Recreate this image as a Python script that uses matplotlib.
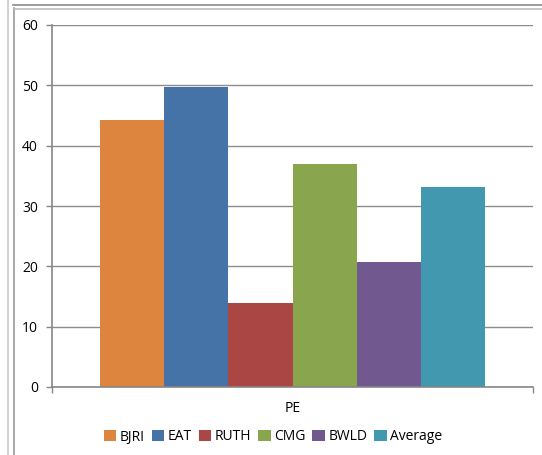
import matplotlib
matplotlib.use("Agg")
import matplotlib.pyplot as plt
from matplotlib.lines import Line2D
from matplotlib.patches import Patch
import numpy as np

plt.rcParams['font.family'] = ['Open Sans', 'DejaVu Sans']

category = "PE"
names = ["BJRI", "EAT", "RUTH", "CMG", "BWLD", "Average"]
values = [44.3, 49.8, 14.0, 37.0, 20.8, 33.2]
colors = ["#DD843F", "#4572A7", "#AA4643", "#89A54E", "#71588F", "#4198AF"]
yticks = [0, 10, 20, 30, 40, 50, 60]

W, H = 542, 455
fig = plt.figure(figsize=(W / 100, H / 100), dpi=100, facecolor='white')

# outer frame lines (screenshot border)
fig.add_artist(Line2D([8 / W, 8 / W], [0, 1], color='#c8c8c8', lw=1.2))
fig.add_artist(Line2D([14 / W, 14 / W], [0, 1 - 8 / H], color='#9a9a9a', lw=1.2))
fig.add_artist(Line2D([13 / W, 1], [1 - 5 / H, 1 - 5 / H], color='#8a8a8a', lw=1.2))
fig.add_artist(Line2D([14 / W, 1], [1 - 8.5 / H, 1 - 8.5 / H], color='#bdbdbd', lw=1.2))

ax = fig.add_axes([52 / W, (H - 387) / H, (533 - 52) / W, (387 - 25) / H])
ax.set_facecolor('white')

n = len(names)
w = 0.8 / n
x = (np.arange(n) - (n - 1) / 2) * w
for xi, v, c in zip(x, values, colors):
    ax.bar(xi, v, width=w, color=c, zorder=3)

ax.set_xlim(-0.5, 0.5)
ax.set_ylim(0, 60)
ax.set_yticks(yticks)
ax.yaxis.grid(True, color='#8c8c8c', lw=1.0, zorder=0)
ax.set_xticks([-0.5, 0.5])
ax.set_xticklabels(["", ""])
ax.tick_params(axis='x', length=4, color='#868686', width=1.0)
ax.tick_params(axis='y', length=4, color='#868686', width=1.0, labelsize=10, pad=6)
for s in ['top', 'right']:
    ax.spines[s].set_visible(False)
for s in ['left', 'bottom']:
    ax.spines[s].set_color('#868686')
    ax.spines[s].set_linewidth(1.2)
    ax.spines[s].set_zorder(4)

fig.text((52 + 533) / 2 / W, 1 - 408 / H, category, ha='center', va='center', fontsize=10)

handles = [Patch(facecolor=c, edgecolor='none') for c in colors]
fig.legend(handles, names, loc='center', bbox_to_anchor=(273 / W, 1 - 437 / H), ncol=n,
           frameon=False, fontsize=10, handlelength=0.9, handleheight=0.9,
           handletextpad=0.25, columnspacing=0.5)

fig.savefig("out.png", dpi=100, facecolor='white')
